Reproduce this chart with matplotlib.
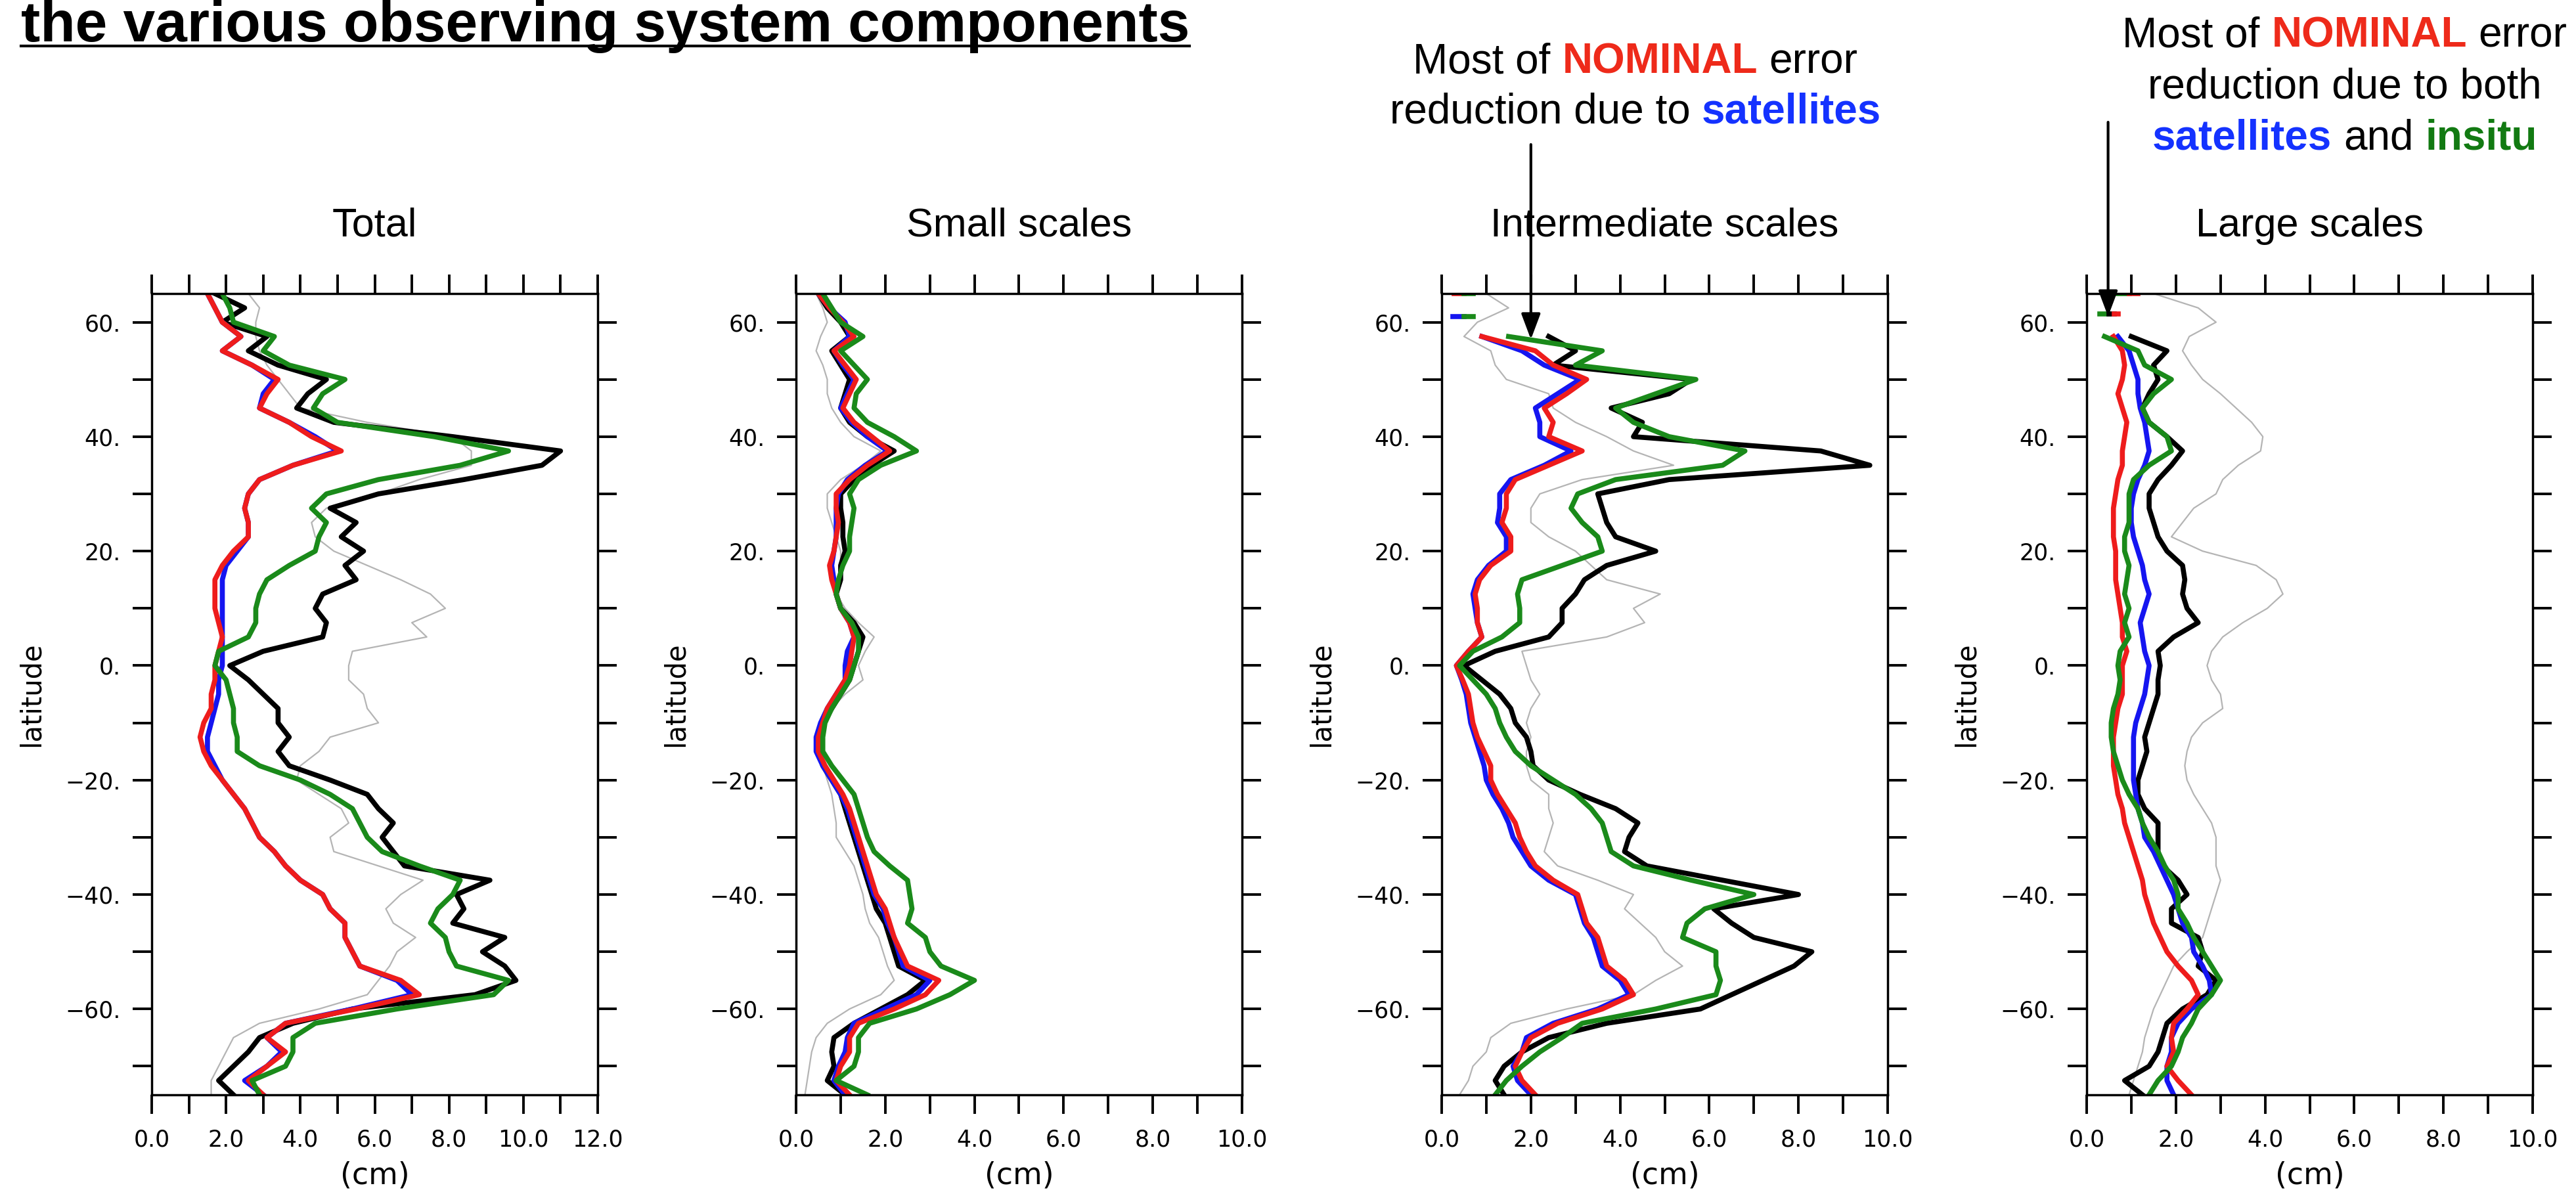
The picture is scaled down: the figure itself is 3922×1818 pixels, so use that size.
import numpy as np
import matplotlib
matplotlib.use("Agg")
import matplotlib.pyplot as plt
from matplotlib.ticker import MultipleLocator, FuncFormatter
from matplotlib.transforms import IdentityTransform
from matplotlib.lines import Line2D

nan = np.nan

# latitudes, north to south
lat = [65, 62.5, 60, 57.5, 55, 52.5, 50, 47.5, 45, 42.5,
       40, 37.5, 35, 32.5, 30, 27.5, 25, 22.5, 20, 17.5,
       15, 12.5, 10, 7.5, 5, 2.5, 0, -2.5, -5, -7.5,
       -10, -12.5, -15, -17.5, -20, -22.5, -25, -27.5, -30, -32.5,
       -35, -37.5, -40, -42.5, -45, -47.5, -50, -52.5, -55, -57.5,
       -60, -62.5, -65, -67.5, -70, -72.5, -75]

# Total
total_gray = [2.6, 2.9, 2.8, 2.8, 2.9, 3.1, 3.4, 3.7, 4.0, 5.8,
              8.1, 8.6, 8.6, 7.2, 6.1, 4.7, 4.3, 4.4, 4.9, 5.8,
              6.7, 7.5, 7.9, 7.0, 7.4, 5.4, 5.3, 5.3, 5.7, 5.8,
              6.1, 4.8, 4.5, 4.0, 3.9, 4.5, 5.1, 5.3, 4.8, 4.9,
              6.1, 7.3, 6.7, 6.3, 6.5, 7.1, 6.6, 6.4, 6.1, 5.8,
              4.5, 2.9, 2.2, 2.0, 1.8, 1.6, 1.6]
total_black = [1.7, 2.5, 1.9, 3.1, 2.6, 3.4, 4.7, 4.2, 3.9, 4.9,
               8.1, 11.0, 10.5, 8.4, 6.1, 4.8, 5.5, 5.1, 5.7, 5.2,
               5.5, 4.6, 4.4, 4.7, 4.6, 3.0, 2.1, 2.6, 3.0, 3.4,
               3.4, 3.7, 3.4, 3.7, 4.8, 5.8, 6.1, 6.5, 6.2, 6.5,
               6.8, 9.1, 8.2, 8.4, 8.1, 9.5, 8.9, 9.5, 9.8, 8.7,
               5.4, 3.8, 2.9, 2.6, 2.2, 1.8, 2.2]
total_green = [1.9, 2.1, 2.2, 3.3, 3.0, 3.7, 5.2, 4.6, 4.35, 5.0,
               7.6, 9.6, 8.3, 6.1, 4.7, 4.3, 4.7, 4.5, 4.4, 3.7,
               3.1, 2.9, 2.8, 2.8, 2.6, 1.8, 1.7, 2.0, 2.1, 2.2,
               2.2, 2.3, 2.3, 2.9, 4.0, 4.8, 5.4, 5.6, 5.8, 6.2,
               7.2, 8.3, 8.1, 7.7, 7.5, 7.9, 8.0, 8.2, 9.6, 9.2,
               6.6, 4.4, 3.8, 3.8, 3.6, 2.7, 2.9]
total_blue = [1.5, 1.7, 1.9, 2.4, 1.9, 2.7, 3.3, 3.0, 2.9, 3.7,
              4.4, 5.0, 3.8, 2.9, 2.6, 2.5, 2.6, 2.6, 2.3, 2.0,
              1.9, 1.9, 1.9, 1.9, 1.9, 1.9, 1.9, 1.8, 1.8, 1.7,
              1.6, 1.5, 1.5, 1.7, 1.9, 2.2, 2.5, 2.7, 2.9, 3.3,
              3.6, 4.0, 4.6, 4.8, 5.2, 5.2, 5.4, 5.6, 6.6, 7.0,
              5.4, 3.6, 3.1, 3.5, 3.1, 2.5, 3.0]
total_red = [1.5, 1.7, 1.9, 2.4, 1.9, 2.7, 3.4, 3.1, 2.9, 3.7,
             4.3, 5.1, 3.8, 2.9, 2.6, 2.5, 2.6, 2.6, 2.2, 1.9,
             1.7, 1.7, 1.7, 1.8, 1.9, 1.8, 1.7, 1.7, 1.6, 1.6,
             1.4, 1.3, 1.4, 1.6, 1.9, 2.2, 2.5, 2.7, 2.9, 3.3,
             3.6, 4.0, 4.6, 4.8, 5.2, 5.2, 5.4, 5.6, 6.7, 7.2,
             5.5, 3.6, 3.1, 3.6, 3.1, 2.6, 3.0]

# Small scales
small_gray = [0.45, 0.6, 0.7, 0.55, 0.45, 0.6, 0.7, 0.7, 0.8, 1.0,
              1.3, 1.9, 1.5, 1.0, 0.7, 0.7, 0.8, 0.9, 1.0, 1.0,
              0.95, 0.9, 1.1, 1.4, 1.75, 1.55, 1.4, 1.5, 1.1, 0.8,
              0.6, 0.5, 0.5, 0.6, 0.7, 0.8, 0.85, 0.9, 0.9, 1.1,
              1.3, 1.4, 1.5, 1.55, 1.65, 1.85, 1.95, 2.05, 2.2, 1.9,
              1.2, 0.7, 0.45, 0.35, 0.3, 0.25, 0.2]
small_black = [0.5, 0.7, 1.0, 1.2, 0.8, 1.0, 1.2, 1.1, 1.0, 1.2,
               1.6, 2.2, 1.7, 1.3, 1.0, 1.0, 1.05, 1.05, 1.1, 1.0,
               1.0, 0.9, 1.0, 1.3, 1.5, 1.4, 1.3, 1.2, 1.0, 0.8,
               0.6, 0.5, 0.5, 0.6, 0.8, 1.0, 1.1, 1.2, 1.3, 1.4,
               1.5, 1.6, 1.7, 1.8, 2.0, 2.1, 2.2, 2.3, 2.9, 2.5,
               1.9, 1.3, 0.85, 0.8, 0.85, 0.7, 1.1]
small_green = [0.6, 0.8, 1.0, 1.5, 1.0, 1.3, 1.6, 1.35, 1.3, 1.6,
               2.2, 2.7, 1.9, 1.4, 1.2, 1.3, 1.25, 1.2, 1.2, 1.05,
               0.95, 0.9, 1.0, 1.25, 1.4, 1.4, 1.3, 1.2, 1.0, 0.8,
               0.65, 0.6, 0.6, 0.8, 1.05, 1.3, 1.4, 1.5, 1.6, 1.75,
               2.1, 2.5, 2.55, 2.6, 2.5, 2.9, 3.0, 3.25, 4.0, 3.45,
               2.7, 1.65, 1.4, 1.4, 1.3, 0.9, 1.6]
small_blue = [0.5, 0.75, 1.1, 1.2, 0.85, 1.05, 1.3, 1.15, 1.0, 1.25,
              1.6, 2.05, 1.55, 1.15, 0.95, 0.9, 0.9, 0.9, 0.85, 0.8,
              0.85, 0.9, 1.0, 1.2, 1.3, 1.15, 1.1, 1.1, 0.9, 0.7,
              0.55, 0.45, 0.45, 0.6, 0.8, 1.0, 1.15, 1.25, 1.35, 1.45,
              1.55, 1.65, 1.75, 1.95, 2.05, 2.2, 2.3, 2.4, 3.0, 2.7,
              2.0, 1.3, 1.15, 1.1, 0.95, 0.85, 1.1]
small_red = [0.5, 0.75, 1.05, 1.3, 0.85, 1.1, 1.35, 1.2, 1.05, 1.3,
             1.7, 2.1, 1.6, 1.2, 0.9, 0.9, 0.95, 0.9, 0.85, 0.75,
             0.8, 0.9, 1.0, 1.2, 1.3, 1.25, 1.2, 1.1, 0.9, 0.7,
             0.6, 0.5, 0.5, 0.65, 0.85, 1.05, 1.2, 1.3, 1.4, 1.5,
             1.6, 1.7, 1.8, 2.0, 2.1, 2.2, 2.35, 2.5, 3.2, 2.9,
             2.2, 1.4, 1.2, 1.2, 1.0, 0.9, 1.2]

# Intermediate scales
inter_gray = [1.0, 1.5, 0.8, 0.5, 1.1, 1.2, 1.45, 2.4, 2.5, 3.0,
              3.7, 4.3, 5.2, 3.15, 2.2, 2.0, 2.0, 2.4, 3.0, 3.35,
              3.7, 4.9, 4.3, 4.55, 3.7, 1.8, 1.9, 2.0, 2.2, 2.0,
              1.9, 2.0, 1.9, 1.9, 2.0, 2.4, 2.4, 2.5, 2.4, 2.3,
              2.6, 3.5, 4.3, 4.1, 4.45, 4.8, 5.0, 5.4, 4.8, 4.3,
              2.8, 1.55, 1.1, 1.0, 0.7, 0.6, 0.4]
inter_black = [nan, nan, nan, 2.4, 3.0, 2.5, 5.6, 5.1, 3.8, 4.5,
               4.3, 8.5, 9.6, 5.1, 3.5, 3.6, 3.7, 3.9, 4.8, 3.7,
               3.2, 3.0, 2.7, 2.7, 2.4, 1.2, 0.5, 0.9, 1.3, 1.55,
               1.65, 1.9, 2.0, 2.05, 2.4, 3.1, 3.9, 4.4, 4.2, 4.1,
               4.6, 6.3, 8.0, 6.1, 6.5, 7.0, 8.3, 7.9, 7.2, 6.5,
               5.8, 3.7, 2.4, 1.8, 1.4, 1.2, 1.4]
inter_green = [nan, nan, nan, 1.5, 3.6, 3.0, 5.7, 4.8, 3.9, 4.3,
               5.1, 6.8, 6.3, 3.9, 3.05, 2.9, 3.15, 3.5, 3.6, 2.7,
               1.8, 1.7, 1.75, 1.75, 1.35, 0.7, 0.4, 0.7, 1.0, 1.2,
               1.3, 1.45, 1.65, 2.0, 2.5, 3.0, 3.35, 3.6, 3.7, 3.8,
               4.3, 5.6, 7.0, 5.9, 5.5, 5.4, 6.15, 6.15, 6.25, 6.15,
               4.8, 3.15, 2.7, 2.2, 1.8, 1.45, 1.2]
inter_blue = [nan, nan, nan, 0.9, 1.8, 2.3, 3.1, 2.6, 2.1, 2.2,
              2.2, 2.9, 2.3, 1.55, 1.3, 1.3, 1.25, 1.45, 1.45, 1.05,
              0.8, 0.7, 0.75, 0.8, 0.9, 0.6, 0.33, 0.45, 0.55, 0.6,
              0.65, 0.75, 0.85, 0.95, 1.0, 1.15, 1.35, 1.5, 1.6, 1.8,
              2.0, 2.4, 3.0, 3.1, 3.2, 3.4, 3.5, 3.6, 4.0, 4.2,
              3.5, 2.5, 1.9, 1.8, 1.6, 1.7, 2.0]
inter_red = [nan, nan, nan, 0.9, 2.1, 2.5, 3.25, 2.8, 2.3, 2.5,
             2.4, 3.15, 2.4, 1.65, 1.45, 1.45, 1.35, 1.55, 1.55, 1.1,
             0.85, 0.75, 0.8, 0.8, 0.9, 0.6, 0.33, 0.47, 0.6, 0.65,
             0.7, 0.8, 0.95, 1.1, 1.1, 1.25, 1.45, 1.65, 1.75, 1.9,
             2.1, 2.5, 3.05, 3.15, 3.25, 3.5, 3.6, 3.7, 4.1, 4.3,
             3.6, 2.6, 2.0, 1.8, 1.65, 1.8, 2.1]

# Large scales
large_gray = [1.5, 2.5, 2.9, 2.3, 2.15, 2.35, 2.6, 3.0, 3.35, 3.7,
              3.95, 3.9, 3.4, 3.05, 2.9, 2.4, 2.15, 1.9, 2.6, 3.8,
              4.25, 4.4, 4.05, 3.5, 3.05, 2.8, 2.7, 2.8, 3.0, 3.05,
              2.6, 2.35, 2.25, 2.2, 2.25, 2.4, 2.6, 2.8, 2.9, 2.9,
              2.9, 3.0, 2.9, 2.8, 2.7, 2.6, 2.25, 1.95, 1.8, 1.65,
              1.5, 1.4, 1.3, 1.25, 1.15, 1.05, 0.95]
large_black = [nan, nan, nan, 1.0, 1.8, 1.5, 1.6, 1.4, 1.25, 1.4,
               1.8, 2.15, 1.9, 1.6, 1.4, 1.4, 1.5, 1.6, 1.8, 2.15,
               2.2, 2.15, 2.25, 2.5, 1.95, 1.6, 1.65, 1.6, 1.6, 1.5,
               1.4, 1.3, 1.35, 1.25, 1.15, 1.15, 1.3, 1.6, 1.6, 1.6,
               1.7, 2.05, 2.25, 1.9, 1.9, 2.5, 2.6, 2.5, 2.9, 2.7,
               2.15, 1.8, 1.7, 1.6, 1.4, 0.85, 1.25]
large_green = [nan, nan, nan, 0.4, 1.15, 1.3, 1.9, 1.5, 1.25, 1.4,
               1.8, 1.9, 1.4, 1.05, 0.95, 0.95, 0.95, 0.85, 0.85, 0.95,
               0.9, 0.85, 0.95, 0.85, 0.95, 0.75, 0.7, 0.75, 0.7, 0.6,
               0.55, 0.55, 0.6, 0.7, 0.8, 0.95, 1.15, 1.25, 1.4, 1.6,
               1.75, 1.95, 2.05, 2.05, 2.25, 2.4, 2.6, 2.8, 3.0, 2.8,
               2.5, 2.35, 2.15, 2.05, 1.9, 1.6, 1.4]
large_blue = [nan, nan, nan, 0.7, 0.95, 1.05, 1.15, 1.15, 1.2, 1.3,
              1.35, 1.4, 1.3, 1.15, 1.05, 1.0, 1.0, 1.05, 1.15, 1.25,
              1.3, 1.4, 1.3, 1.2, 1.25, 1.3, 1.4, 1.35, 1.3, 1.2,
              1.1, 1.05, 1.05, 1.05, 1.05, 1.1, 1.15, 1.25, 1.3, 1.5,
              1.65, 1.8, 1.95, 2.05, 2.15, 2.35, 2.4, 2.6, 2.75, 2.8,
              2.35, 2.05, 1.9, 1.9, 1.8, 1.8, 1.95]
large_red = [nan, nan, nan, 0.6, 0.8, 0.85, 0.8, 0.7, 0.8, 0.9,
             0.85, 0.8, 0.8, 0.7, 0.65, 0.6, 0.6, 0.6, 0.65, 0.65,
             0.65, 0.7, 0.75, 0.8, 0.8, 0.9, 0.8, 0.8, 0.8, 0.7,
             0.65, 0.6, 0.6, 0.6, 0.65, 0.7, 0.8, 0.85, 0.95, 1.05,
             1.15, 1.25, 1.3, 1.4, 1.5, 1.65, 1.8, 2.05, 2.35, 2.5,
             2.25, 1.95, 1.9, 1.95, 1.8, 2.05, 2.35]

# short isolated bits near the pole (lat, x0, x1, colour)
inter_stubs = [(65, 0.28, 0.5, "red"), (65, 0.5, 0.7, "green"),
               (61, 0.25, 0.5, "blue"), (61, 0.5, 0.7, "green")]
large_stubs = [(65, 0.4, 0.95, "green"), (65, 0.95, 1.15, "red"),
               (61.5, 0.3, 0.5, "green"), (61.5, 0.5, 0.62, "black"),
               (61.5, 0.62, 0.7, "red")]

titles = ["Total", "Small scales", "Intermediate scales", "Large scales"]
xmaxs = [12, 10, 10, 10]

col = {"gray": "#b4b4b4", "black": "#000000", "green": "#1a8a1a",
       "blue": "#1515f0", "red": "#ee1c1c"}

plt.rcParams["font.family"] = "DejaVu Sans"

W, H = 3923, 1818
fig = plt.figure(figsize=(W / 100, H / 100), dpi=100)

lefts = [231, 1212, 2195, 3177]
axw, axh, axb = 679, 1220, 151
LW = 5.5

data = [(total_gray, total_black, total_blue, total_red, total_green, []),
        (small_gray, small_black, small_blue, small_red, small_green, []),
        (inter_gray, inter_black, inter_blue, inter_red, inter_green, inter_stubs),
        (large_gray, large_black, large_blue, large_red, large_green, large_stubs)]

axes = []
for i, (g, k, b, r, gr, stubs) in enumerate(data):
    ax = fig.add_axes([lefts[i] / W, axb / H, axw / W, axh / H])
    axes.append(ax)
    ax.plot(g, lat, color=col["gray"], lw=1.6)
    ax.plot(k, lat, color=col["black"], lw=LW)
    ax.plot(b, lat, color=col["blue"], lw=LW)
    ax.plot(r, lat, color=col["red"], lw=LW)
    ax.plot(gr, lat, color=col["green"], lw=LW)
    for la, x0, x1, c in stubs:
        ax.plot([x0, x1], [la, la], color=col[c], lw=LW)

    ax.set_xlim(0, xmaxs[i])
    ax.set_ylim(-75, 65)
    ax.xaxis.set_major_locator(MultipleLocator(2))
    ax.xaxis.set_minor_locator(MultipleLocator(1))
    ax.yaxis.set_major_locator(MultipleLocator(20))
    ax.yaxis.set_minor_locator(MultipleLocator(10))
    ax.xaxis.set_major_formatter(FuncFormatter(lambda v, p: f"{v:.1f}"))
    ax.yaxis.set_major_formatter(
        FuncFormatter(lambda v, p: f"{int(round(v))}.".replace("-", "\u2212")))
    ax.tick_params(axis="both", which="both", direction="out", top=True,
                   right=True, width=2.8, length=21, labelsize=25)
    ax.tick_params(axis="x", which="both", pad=16)
    ax.tick_params(axis="y", which="both", pad=13)
    for s in ax.spines.values():
        s.set_linewidth(2.5)

    ax.text(0.5, 1 + 87 / axh, titles[i], transform=ax.transAxes, ha="center",
            va="baseline", fontsize=44, family="Liberation Sans")
    ax.text(-183 / axw, 0.5, "latitude", transform=ax.transAxes, rotation=90,
            ha="center", va="center", fontsize=30)
    ax.text(0.5, -123 / axh, "(cm)", transform=ax.transAxes, ha="center",
            va="center", fontsize=33)

fig.canvas.draw()
rend = fig.canvas.get_renderer()
px = IdentityTransform()

# heading, cut at the left edge as in the slide
head = fig.text(32, H - 63, "the various observing system components",
                fontsize=63, fontweight="bold", family="Liberation Sans",
                transform=px, va="baseline")
bb = head.get_window_extent(rend)
fig.add_artist(Line2D([bb.x0, bb.x1], [H - 70, H - 70], transform=px,
                      color="k", lw=3))

red_t, blue_t, green_t = "#ee2a1a", "#1432ff", "#127a12"


def rich_line(xc, ytop, parts, size=46):
    sp = fig.text(0, 0, "a a", fontsize=size, family="Liberation Sans", transform=px)
    nosp = fig.text(0, 0, "aa", fontsize=size, family="Liberation Sans", transform=px)
    space = sp.get_window_extent(rend).width - nosp.get_window_extent(rend).width
    sp.remove()
    nosp.remove()
    objs = []
    for s, c, w in parts:
        objs.append(fig.text(0, H - ytop, s, color=c, fontweight=w, fontsize=size,
                             family="Liberation Sans", transform=px, va="baseline"))
    widths = [t.get_window_extent(rend).width for t in objs]
    x = xc - (sum(widths) + space * (len(objs) - 1)) / 2
    for t, wd in zip(objs, widths):
        t.set_x(x)
        x += wd + space


nominal = [("Most of", "k", "normal"), ("NOMINAL", red_t, "bold"), ("error", "k", "normal")]
rich_line(2490, 111, nominal)
rich_line(2490, 188, [("reduction due to", "k", "normal"), ("satellites", blue_t, "bold")])
rich_line(3570, 72, nominal)
rich_line(3570, 150, [("reduction due to both", "k", "normal")])
rich_line(3570, 227, [("satellites", blue_t, "bold"), ("and", "k", "normal"),
                      ("insitu", green_t, "bold")])

arrow = dict(arrowstyle="-|>,head_length=0.8,head_width=0.3", color="k", lw=3,
             shrinkA=0, shrinkB=0, mutation_scale=30)
axes[2].annotate("", xy=(2.0, 57), xytext=(2.0, H - 220),
                 textcoords=("data", "figure pixels"), arrowprops=arrow,
                 annotation_clip=False)
axes[3].annotate("", xy=(0.48, 61), xytext=(0.48, H - 186),
                 textcoords=("data", "figure pixels"), arrowprops=arrow,
                 annotation_clip=False)

fig.savefig("out.png", dpi=100)
